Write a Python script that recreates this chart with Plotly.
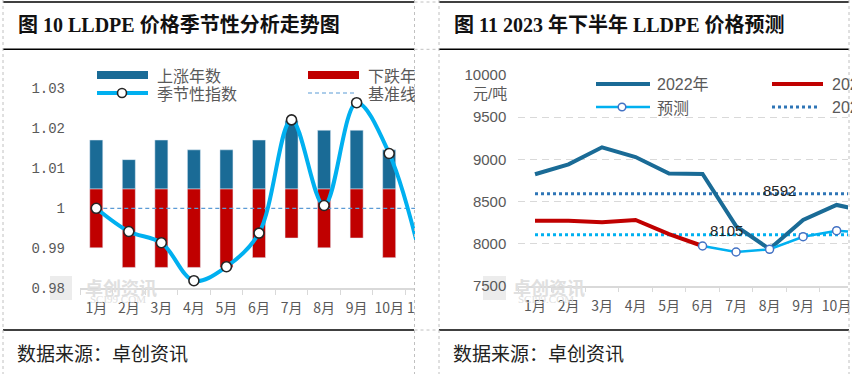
import plotly.graph_objects as go

# ---------------- data ----------------
months = ["1月", "2月", "3月", "4月", "5月", "6月", "7月", "8月", "9月", "10月", "11月", "12月"]

# left chart: seasonal analysis
up_years = [5, 3, 5, 4, 4, 5, 7, 6, 6, 4]            # 上涨年数
down_years = [6, 8, 8, 8, 8, 7, 5, 6, 5, 7]          # 下跌年数
season_index = [1.000, 0.9942, 0.9914, 0.9819, 0.9854, 0.9938, 1.0221, 1.0007, 1.0264, 1.0137, 0.9865]
baseline = [1] * 12
left_ticks = [0.98, 0.99, 1.0, 1.01, 1.02, 1.03]
left_ticktext = ["0.98", "0.99", "1", "1.01", "1.02", "1.03"]

# right chart: 2023 H2 forecast
price_2022 = [8822, 8940, 9142, 9027, 8831, 8825, 8208, 7935, 8280, 8458, 8374]
price_2023 = [8271, 8271, 8252, 8280, 8113, 7971]
forecast = [7971, 7900, 7932, 8081, 8153, 8125]      # 6月-11月
forecast_months = months[5:11]
mean_2022 = 8592
mean_2023 = 8105
right_ticks = [7500, 8000, 8500, 9000, 9500, 10000]
right_ticktext = ["7500", "8000", "8500", "9000", "9500", "10000"]

# ---------------- helpers ----------------
W, H = 852, 374
def px(x): return x / W
def py(y): return 1 - y / H

GRAY_TXT = "#595959"
BLUE_BAR = "#1a6b96"
RED = "#c00000"
LBLUE = "#00b0f0"
CJK = "Noto Sans CJK SC"

fig = go.Figure()

# ---- left chart traces ----
fig.add_trace(go.Bar(x=months[:10], y=up_years, marker_color=BLUE_BAR, width=0.4,
                     xaxis="x", yaxis="y", name="上涨年数"))
fig.add_trace(go.Bar(x=months[:10], y=[-v for v in down_years], marker_color=RED, width=0.4,
                     xaxis="x", yaxis="y", name="下跌年数"))
fig.add_trace(go.Scatter(x=months, y=baseline, mode="lines",
                         line=dict(color="#5b9bd5", width=1.2, dash="4px,3px"),
                         xaxis="x", yaxis="y2", name="基准线"))
fig.add_trace(go.Scatter(x=months[:11], y=season_index, mode="lines+markers",
                         line=dict(color=LBLUE, width=4, shape="spline", smoothing=1.0),
                         marker=dict(size=10, color="white", line=dict(color="#262626", width=1.6)),
                         xaxis="x", yaxis="y2", name="季节性指数"))

# ---- right chart traces ----
fig.add_trace(go.Scatter(x=months[:11], y=[mean_2022] * 11, mode="lines",
                         line=dict(color="#2e75b6", width=3, dash="3px,3px"),
                         xaxis="x2", yaxis="y3", name="2022年均值"))
fig.add_trace(go.Scatter(x=months[:11], y=[mean_2023] * 11, mode="lines",
                         line=dict(color=LBLUE, width=3, dash="3px,3px"),
                         xaxis="x2", yaxis="y3", name="2023年均值"))
fig.add_trace(go.Scatter(x=months[:11], y=price_2022, mode="lines",
                         line=dict(color=BLUE_BAR, width=4),
                         xaxis="x2", yaxis="y3", name="2022年"))
fig.add_trace(go.Scatter(x=months[:6], y=price_2023, mode="lines",
                         line=dict(color=RED, width=4),
                         xaxis="x2", yaxis="y3", name="2023年"))
fig.add_trace(go.Scatter(x=forecast_months, y=forecast, mode="lines+markers",
                         line=dict(color=LBLUE, width=2.5),
                         marker=dict(size=8, color="white", line=dict(color="#4472c4", width=1.5)),
                         xaxis="x2", yaxis="y3", name="预测"))

# ---------------- axes ----------------
tickfont_cjk = dict(family=CJK, size=14, color=GRAY_TXT)
fig.update_layout(
    width=W, height=H, margin=dict(l=0, r=0, t=0, b=0, pad=0, autoexpand=False),
    paper_bgcolor="white", plot_bgcolor="rgba(0,0,0,0)",
    showlegend=False, barmode="relative",
    xaxis=dict(domain=[px(80), px(438)], type="category", categoryorder="array",
               categoryarray=months, range=[-0.5, 10.5], anchor="y", automargin=False,
               showline=True, linecolor="#d9d9d9", linewidth=2, tickangle=0,
               ticks="outside", tickson="boundaries", ticklen=5, tickcolor="#d9d9d9",
               tickfont=tickfont_cjk, showgrid=False, zeroline=False, ticklabelstandoff=6),
    yaxis=dict(domain=[py(288.3), py(68.3)], range=[-10.13, 12.32], visible=False,
               anchor="x", automargin=False),
    yaxis2=dict(overlaying="y", side="left", anchor="x", range=[0.98, 1.035], automargin=False,
                tickvals=left_ticks, ticktext=left_ticktext,
                tickfont=dict(family="Liberation Mono", size=14, color=GRAY_TXT),
                showgrid=False, zeroline=False, showline=False, ticks="",
                ticklabelstandoff=14),
    xaxis2=dict(domain=[px(518.25), px(848)], type="category", categoryorder="array",
                categoryarray=months, range=[-0.5, 9.34], anchor="y3", automargin=False,
                showline=True, linecolor="#d9d9d9", linewidth=1.5, tickangle=0,
                ticks="outside", tickson="boundaries", ticklen=5, tickcolor="#d9d9d9",
                tickfont=tickfont_cjk, showgrid=False, zeroline=False, ticklabelstandoff=7),
    yaxis3=dict(domain=[py(285.7), py(75)], range=[7500, 10000], anchor="x2", automargin=False,
                tickvals=right_ticks, ticktext=right_ticktext,
                tickfont=dict(family="Liberation Sans", size=15, color=GRAY_TXT),
                showgrid=True, gridcolor="#d9d9d9", gridwidth=1, griddash="7px,5px",
                zeroline=False, showline=False, ticks="", ticklabelstandoff=11),
)

# ---------------- shapes ----------------
shapes = []
def hline(y, x0, x1, color="black", width=1.5, dash=None, layer="above"):
    d = dict(type="line", xref="paper", yref="paper", x0=px(x0), x1=px(x1), y0=py(y), y1=py(y),
             line=dict(color=color, width=width), layer=layer)
    if dash:
        d["line"]["dash"] = dash
    shapes.append(d)
def vline(x, y0, y1, color="#c0c0c0", width=1, dash="3px,3px"):
    shapes.append(dict(type="line", xref="paper", yref="paper", x0=px(x), x1=px(x), y0=py(y0), y1=py(y1),
                       line=dict(color=color, width=width, dash=dash), layer="above"))
def rect(x0, y0, x1, y1, color, layer="above"):
    shapes.append(dict(type="rect", xref="paper", yref="paper", x0=px(x0), x1=px(x1), y0=py(y1), y1=py(y0),
                       fillcolor=color, line=dict(width=0), layer=layer))
def circle(cx, cy, r, fill, edge, width):
    shapes.append(dict(type="circle", xref="paper", yref="paper", x0=px(cx - r), x1=px(cx + r),
                       y0=py(cy + r), y1=py(cy - r), fillcolor=fill,
                       line=dict(color=edge, width=width), layer="above"))

# watermark logos (below)
rect(50, 276, 72, 300, "#ececec", layer="below")
rect(483, 276, 506, 300, "#ececec", layer="below")

# cover for the clipped right part of the left chart
rect(415, 52, 438.5, 327, "white")

# panel rules
for (a, b) in [(3, 414), (439, 849)]:
    hline(2, a, b)
    hline(49.3, a, b)
    hline(330, a, b)
# dashed table borders
vline(3, 0, 374)
vline(414.5, 0, 374)
vline(439, 0, 374)
vline(849, 0, 374)
for y in [2, 49.3, 330]:
    hline(y, 414.5, 439, color="#c0c0c0", width=1, dash="3px,3px")

# left legend swatches
rect(97, 71, 148, 79, BLUE_BAR)
rect(308, 71, 359, 79, RED)
hline(93, 97, 148, color=LBLUE, width=4)
circle(122, 93, 4.5, "white", "#262626", 1.6)
hline(93, 308, 357, color="#5b9bd5", width=1.2, dash="4px,3px")

# right legend swatches
hline(84, 596, 650, color=BLUE_BAR, width=4)
hline(107, 596, 650, color=LBLUE, width=2.5)
circle(622, 107, 3.8, "white", "#4472c4", 1.5)
hline(84, 772, 823, color=RED, width=4)
hline(107, 772, 820, color="#2e75b6", width=3, dash="3px,3px")

fig.update_layout(shapes=shapes)

# ---------------- annotations ----------------
ann = []
def text(x, y, s, size=16, color=GRAY_TXT, family=CJK, xanchor="left"):
    ann.append(dict(xref="paper", yref="paper", x=px(x), y=py(y), text=s, showarrow=False,
                    xanchor=xanchor, yanchor="middle", font=dict(family=family, size=size, color=color)))

title_font = "Liberation Serif, " + CJK
text(16, 25, "<b>图 10 LLDPE 价格季节性分析走势图</b>", size=20, color="#111111", family=title_font)
text(452, 25, "<b>图 11 2023 年下半年 LLDPE 价格预测</b>", size=20, color="#111111", family=title_font)
text(15, 352, "数据来源：卓创资讯", size=19, color="#222222")
text(451, 352, "数据来源：卓创资讯", size=19, color="#222222")

# watermarks
for x0 in (121, 549):
    text(x0, 287, "<b>卓创资讯</b>", size=18, color="#e0e0e0", xanchor="center")
    text(x0 - 3, 299, "SCI99.COM", size=11, color="#e0e0e0", family="Liberation Serif", xanchor="center")

# left legend texts
text(155, 75, "上涨年数")
text(155, 93, "季节性指数")
text(366, 75, "下跌年数")
text(366, 93, "基准线")

# right legend texts
text(655, 84, "2022年", size=16, family="Liberation Sans, " + CJK)
text(655, 107, "预测", size=16)
text(830, 84, "2023年", size=16, family="Liberation Sans, " + CJK)
text(830, 107, "2022年均值", size=16, family="Liberation Sans, " + CJK)

# unit label
text(490, 93, "元/吨", size=15, xanchor="center", family="Liberation Sans, " + CJK)

# mean value labels (data coords)
ann.append(dict(xref="x2", yref="y3", x="8月", y=mean_2022, text=f"{mean_2022}", showarrow=False,
                xshift=10, yshift=3, font=dict(family="Liberation Sans", size=15, color="#262626")))
ann.append(dict(xref="x2", yref="y3", x="7月", y=mean_2023, text=f"{mean_2023}", showarrow=False,
                xshift=-10, yshift=4, font=dict(family="Liberation Sans", size=15, color="#262626")))

# cover for clipped left legend text (drawn last)
ann.append(dict(xref="paper", yref="paper", x=px(415), y=py(62), xanchor="left", yanchor="top",
                text=" ", showarrow=False, width=23, height=42, bgcolor="white", borderpad=0,
                borderwidth=0))

fig.update_layout(annotations=ann)

fig.write_html("out.html", config={"displayModeBar": False},
               post_script="document.body.style.margin='0';document.body.style.overflow='hidden';")
